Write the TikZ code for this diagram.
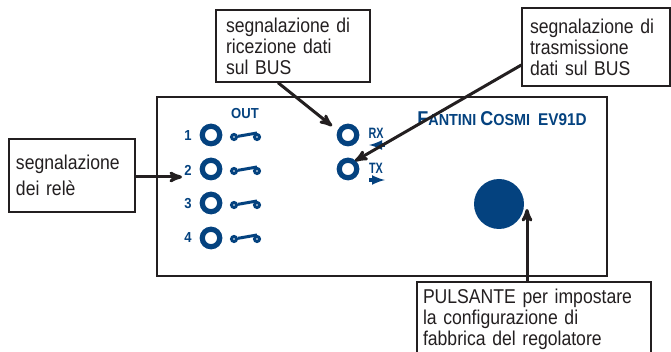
\documentclass[tikz,border=0pt]{standalone}
\usepackage{fontspec}
\setmainfont{Liberation Sans}
\newfontfamily\narrowfont[FakeStretch=0.88,WordSpace=0.85]{Liberation Sans}
\newfontfamily\logofont[FakeStretch=0.9]{Liberation Sans}
\newfontfamily\tagfont[FakeStretch=0.72]{Liberation Sans}
\usetikzlibrary{arrows}
\definecolor{panelblue}{HTML}{04427F}
\definecolor{inkblack}{HTML}{231F20}

\begin{document}
\begin{tikzpicture}[x=1pt,y=-1pt,>=stealth',
                    call box/.style={draw=inkblack,line width=1.3pt,fill=white,inner xsep=8pt,inner ysep=0pt,
                      align=left,font=\narrowfont\fontsize{20}{21}\selectfont,text=inkblack},
                    call line/.style={->,draw=inkblack,line width=3pt},
                    led/.style={circle,draw=panelblue,line width=5.2pt,minimum size=17.5pt,inner sep=0pt},
                    contact/.style={circle,draw=panelblue,line width=3pt,fill=white,minimum size=5pt,inner sep=0pt},
                    blade/.style={draw=panelblue,line width=3pt},
                    panel text/.style={font=\logofont\bfseries\fontsize{14.5}{14.5}\selectfont,text=panelblue,inner sep=0pt},
                    tag text/.style={font=\tagfont\bfseries\fontsize{15}{15}\selectfont,text=panelblue,inner sep=0pt},
                    small arrow/.style={-latex,draw=panelblue,line width=3.4pt}]
  \useasboundingbox (0,0) rectangle (671,352);
  \node[draw=inkblack,line width=2.2pt,minimum width=450pt,minimum height=179pt,inner sep=0pt] (panel) at (382,186.5) {};
  % left column
  \node[panel text] (out) at (245,114) {OUT};
  \node[panel text] (num1) at (188,136) {1};
  \node[panel text] (num2) at (188,170) {2};
  \node[panel text] (num3) at (188,204) {3};
  \node[panel text] (num4) at (188,238) {4};
  \node[led] (led1) at (211,135) {};
  \node[led] (led2) at (211,169) {};
  \node[led] (led3) at (211,203) {};
  \node[led] (led4) at (211,238) {};
  \node[contact] (a1) at (234,137) {};
  \node[contact] (b1) at (257,137) {};
  \node[contact] (a2) at (234,171) {};
  \node[contact] (b2) at (257,171) {};
  \node[contact] (a3) at (234,205) {};
  \node[contact] (b3) at (257,205) {};
  \node[contact] (a4) at (234,239) {};
  \node[contact] (b4) at (257,239) {};
  \path
    (a1) edge[blade] (b1.north)
    (a2) edge[blade] (b2.north)
    (a3) edge[blade] (b3.north)
    (a4) edge[blade] (b4.north);
  % bus leds
  \node[led] (rxled) at (348,135) {};
  \node[led] (txled) at (348,169) {};
  \node[tag text] (rx) at (376,133) {RX};
  \node[tag text] (tx) at (376,168) {TX};
  \coordinate (rxa) at (385,145);
  \coordinate (rxb) at (369,145);
  \coordinate (txa) at (369,180);
  \coordinate (txb) at (385,180);
  \draw[small arrow] (rxa) -- (rxb);
  \draw[small arrow] (txa) -- (txb);
  % logo and button
  \node[font=\logofont\bfseries,text=panelblue,inner sep=0pt] (logo) at (502,119)
    {\fontsize{20}{20}\selectfont F\fontsize{16}{16}\selectfont ANTINI \fontsize{20}{20}\selectfont C\fontsize{16}{16}\selectfont OSMI\ \ \fontsize{17}{17}\selectfont EV91D};
  \node[circle,fill=panelblue,minimum size=50pt,inner sep=0pt] (button) at (499,204) {};
  % call outs
  \node[call box,minimum width=126pt,minimum height=73pt,inner xsep=7pt,text width=112pt] (relbox) at (72,175.5) {segnalazione\\[5pt]dei relè};
  \node[call box,minimum width=154pt,minimum height=72pt,inner xsep=10pt,text width=134pt] (rxbox) at (293,46) {segnalazione di\\ricezione dati\\sul BUS};
  \node[call box,minimum width=148pt,minimum height=78pt,inner xsep=8pt,text width=132pt] (txbox) at (596,47) {segnalazione di\\trasmissione\\dati sul BUS};
  \node[call box,minimum width=234pt,minimum height=74pt,inner xsep=6pt,text width=222pt] (pulbox) at (534,319) {PULSANTE per impostare\\la configurazione di\\fabbrica del regolatore};
  \coordinate (relend) at (182,177);
  \coordinate (rxend) at (332,126);
  \coordinate (txend) at (355,161);
  \coordinate (pulend) at (527,209);
  \path
    ([yshift=-1.5pt]relbox.east) edge[call line] (relend)
    ([xshift=-15pt]rxbox.south) edge[call line] (rxend)
    ([yshift=-18pt]txbox.west) edge[call line] (txend)
    ([xshift=-7pt]pulbox.north) edge[call line] (pulend);
\end{tikzpicture}
\end{document}
